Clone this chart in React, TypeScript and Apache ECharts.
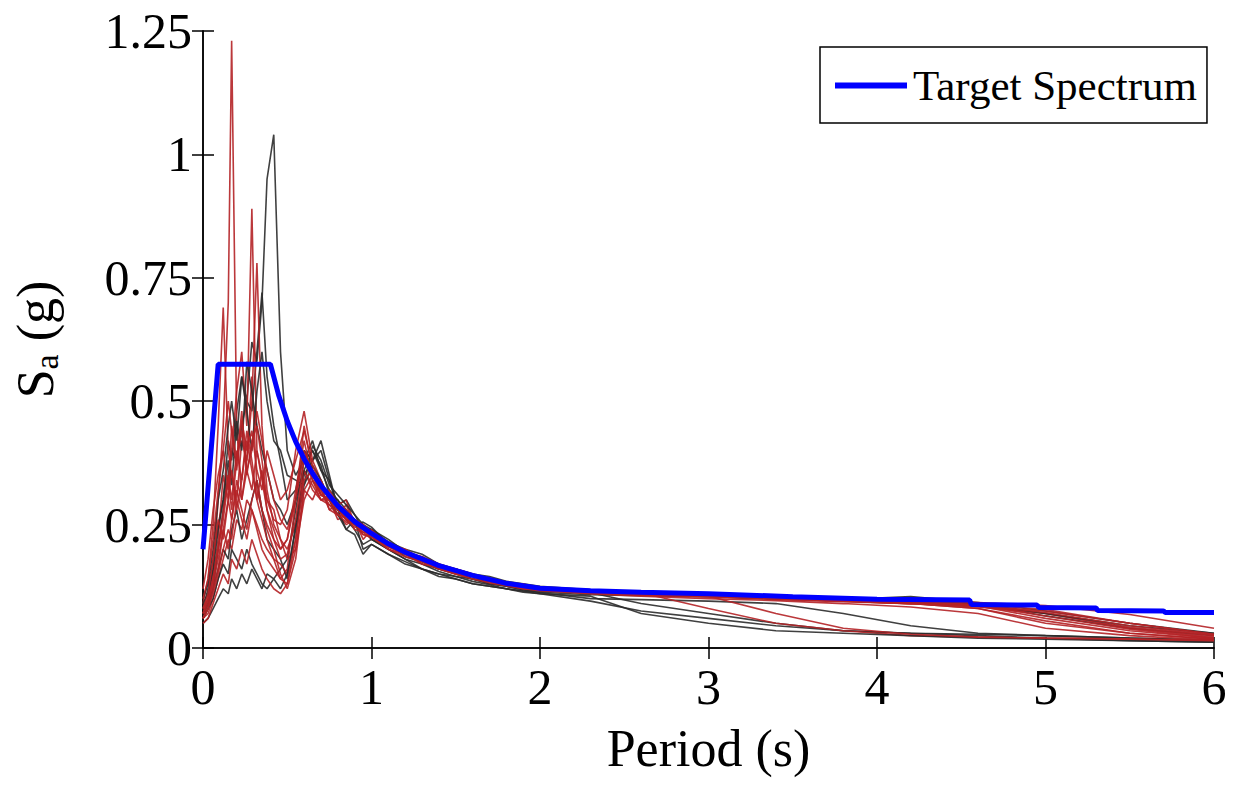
import React, { useEffect, useRef } from "react";
import * as echarts from "echarts";

// Period grid (s) shared by all ground-motion records
const PERIODS = [
  0, 0.03, 0.06, 0.09, 0.12, 0.15, 0.17, 0.2, 0.23, 0.26, 0.29, 0.32, 0.35, 0.38, 0.42, 0.46, 0.5, 0.55,
  0.6, 0.65, 0.7, 0.75, 0.8, 0.85, 0.9, 0.95, 1.0, 1.1, 1.2, 1.3, 1.4, 1.5, 1.6, 1.7, 1.8, 1.9, 2.0,
  2.3, 2.6, 3.0, 3.4, 3.8, 4.2, 4.6, 5.0, 5.5, 6.0,
];

// Red records (Sa in g at PERIODS)
const R1 = [0.07, 0.10, 0.16, 0.30, 0.45, 0.70, 1.23, 0.45, 0.30, 0.38, 0.55, 0.32, 0.28, 0.25, 0.22, 0.20, 0.22, 0.30,
  0.40, 0.36, 0.31, 0.30, 0.27, 0.29, 0.25, 0.235, 0.22, 0.21, 0.19, 0.185, 0.16, 0.16, 0.145, 0.14, 0.13, 0.125, 0.12,
  0.115, 0.11, 0.105, 0.10, 0.098, 0.092, 0.085, 0.06, 0.035, 0.02];
const R2 = [0.06, 0.09, 0.14, 0.22, 0.35, 0.30, 0.40, 0.52, 0.60, 0.45, 0.89, 0.40, 0.35, 0.30, 0.28, 0.22, 0.20, 0.25,
  0.36, 0.33, 0.30, 0.29, 0.28, 0.26, 0.26, 0.25, 0.235, 0.21, 0.19, 0.175, 0.165, 0.16, 0.15, 0.14, 0.13, 0.122, 0.12,
  0.112, 0.11, 0.107, 0.10, 0.095, 0.09, 0.08, 0.055, 0.03, 0.018];
const R3 = [0.09, 0.14, 0.25, 0.45, 0.69, 0.40, 0.35, 0.30, 0.42, 0.38, 0.50, 0.78, 0.45, 0.32, 0.25, 0.22, 0.18, 0.20,
  0.32, 0.35, 0.33, 0.28, 0.29, 0.30, 0.25, 0.23, 0.225, 0.205, 0.195, 0.17, 0.16, 0.15, 0.14, 0.135, 0.128, 0.13, 0.118,
  0.11, 0.108, 0.104, 0.098, 0.094, 0.09, 0.083, 0.07, 0.04, 0.022];
const R4 = [0.06, 0.07, 0.10, 0.14, 0.18, 0.22, 0.20, 0.26, 0.24, 0.30, 0.28, 0.25, 0.22, 0.20, 0.18, 0.14, 0.16, 0.30,
  0.45, 0.36, 0.32, 0.29, 0.27, 0.25, 0.26, 0.22, 0.24, 0.21, 0.20, 0.18, 0.165, 0.155, 0.148, 0.135, 0.13, 0.123, 0.12,
  0.113, 0.108, 0.104, 0.10, 0.097, 0.093, 0.088, 0.07, 0.042, 0.025];
const R5 = [0.08, 0.10, 0.15, 0.20, 0.28, 0.35, 0.30, 0.40, 0.34, 0.42, 0.36, 0.30, 0.26, 0.22, 0.18, 0.17, 0.15, 0.22,
  0.36, 0.32, 0.30, 0.31, 0.28, 0.26, 0.25, 0.25, 0.23, 0.215, 0.19, 0.185, 0.17, 0.16, 0.15, 0.14, 0.132, 0.126, 0.12,
  0.118, 0.112, 0.08, 0.05, 0.035, 0.025, 0.022, 0.02, 0.018, 0.015];
const R6 = [0.12, 0.18, 0.28, 0.35, 0.40, 0.32, 0.45, 0.38, 0.48, 0.35, 0.42, 0.45, 0.38, 0.30, 0.26, 0.25, 0.28, 0.40,
  0.48, 0.38, 0.34, 0.30, 0.26, 0.27, 0.24, 0.235, 0.23, 0.20, 0.19, 0.175, 0.162, 0.15, 0.145, 0.14, 0.13, 0.122, 0.118,
  0.112, 0.109, 0.105, 0.102, 0.097, 0.092, 0.086, 0.065, 0.038, 0.02];
const R7 = [0.05, 0.06, 0.09, 0.12, 0.15, 0.13, 0.18, 0.16, 0.20, 0.17, 0.22, 0.19, 0.16, 0.14, 0.12, 0.11, 0.13, 0.22,
  0.34, 0.36, 0.31, 0.32, 0.29, 0.26, 0.255, 0.24, 0.23, 0.21, 0.193, 0.18, 0.168, 0.155, 0.146, 0.138, 0.13, 0.125, 0.12,
  0.115, 0.11, 0.106, 0.10, 0.095, 0.09, 0.084, 0.075, 0.05, 0.028];
const R8 = [0.07, 0.09, 0.13, 0.18, 0.24, 0.30, 0.26, 0.34, 0.30, 0.36, 0.32, 0.40, 0.34, 0.28, 0.24, 0.20, 0.22, 0.32,
  0.42, 0.34, 0.31, 0.30, 0.285, 0.27, 0.26, 0.24, 0.225, 0.205, 0.19, 0.17, 0.165, 0.16, 0.145, 0.135, 0.128, 0.12, 0.118,
  0.113, 0.108, 0.104, 0.10, 0.096, 0.09, 0.08, 0.05, 0.03, 0.018];
const R9 = [0.10, 0.14, 0.22, 0.32, 0.40, 0.50, 0.44, 0.36, 0.46, 0.40, 0.44, 0.36, 0.32, 0.40, 0.35, 0.30, 0.32, 0.38,
  0.44, 0.37, 0.33, 0.30, 0.29, 0.28, 0.26, 0.25, 0.235, 0.21, 0.195, 0.185, 0.163, 0.155, 0.147, 0.14, 0.132, 0.126, 0.12,
  0.114, 0.11, 0.106, 0.102, 0.098, 0.093, 0.087, 0.072, 0.045, 0.026];
const R10 = [0.06, 0.08, 0.11, 0.15, 0.20, 0.24, 0.22, 0.30, 0.26, 0.22, 0.28, 0.24, 0.20, 0.18, 0.16, 0.14, 0.13, 0.20,
  0.30, 0.34, 0.32, 0.28, 0.27, 0.255, 0.255, 0.23, 0.225, 0.20, 0.185, 0.175, 0.16, 0.15, 0.14, 0.132, 0.126, 0.12, 0.116,
  0.11, 0.105, 0.10, 0.096, 0.09, 0.083, 0.07, 0.04, 0.025, 0.016];
const R11 = [0.08, 0.11, 0.18, 0.26, 0.22, 0.30, 0.36, 0.28, 0.34, 0.44, 0.38, 0.30, 0.36, 0.28, 0.22, 0.18, 0.19, 0.26,
  0.38, 0.34, 0.30, 0.30, 0.28, 0.26, 0.245, 0.24, 0.23, 0.21, 0.19, 0.178, 0.165, 0.155, 0.146, 0.138, 0.13, 0.124, 0.12,
  0.115, 0.11, 0.106, 0.101, 0.097, 0.094, 0.088, 0.078, 0.05, 0.028];
const R12 = [0.06, 0.08, 0.12, 0.16, 0.24, 0.20, 0.26, 0.32, 0.28, 0.24, 0.30, 0.34, 0.28, 0.24, 0.20, 0.15, 0.12, 0.18,
  0.32, 0.30, 0.34, 0.30, 0.29, 0.27, 0.255, 0.24, 0.232, 0.21, 0.196, 0.182, 0.165, 0.158, 0.148, 0.14, 0.132, 0.125, 0.121,
  0.118, 0.112, 0.108, 0.103, 0.10, 0.096, 0.092, 0.086, 0.068, 0.04];
const R13 = [0.07, 0.10, 0.14, 0.20, 0.26, 0.34, 0.28, 0.38, 0.44, 0.36, 0.40, 0.48, 0.42, 0.36, 0.30, 0.26, 0.24, 0.30,
  0.40, 0.35, 0.31, 0.30, 0.27, 0.265, 0.25, 0.245, 0.23, 0.205, 0.19, 0.178, 0.162, 0.152, 0.145, 0.136, 0.128, 0.122, 0.118,
  0.113, 0.108, 0.105, 0.07, 0.04, 0.028, 0.022, 0.02, 0.018, 0.015];

// Black records (Sa in g at PERIODS)
const B1 = [0.08, 0.12, 0.18, 0.25, 0.30, 0.42, 0.38, 0.48, 0.55, 0.50, 0.62, 0.58, 0.70, 0.95, 1.04, 0.60, 0.40, 0.35,
  0.38, 0.42, 0.36, 0.32, 0.30, 0.28, 0.26, 0.25, 0.24, 0.215, 0.20, 0.19, 0.17, 0.16, 0.15, 0.145, 0.135, 0.13, 0.125,
  0.118, 0.112, 0.108, 0.105, 0.10, 0.098, 0.09, 0.065, 0.04, 0.025];
const B2 = [0.06, 0.08, 0.12, 0.20, 0.28, 0.35, 0.40, 0.38, 0.45, 0.50, 0.48, 0.60, 0.72, 0.55, 0.45, 0.38, 0.30, 0.32,
  0.40, 0.38, 0.40, 0.34, 0.29, 0.30, 0.27, 0.24, 0.24, 0.22, 0.195, 0.175, 0.16, 0.15, 0.14, 0.13, 0.125, 0.118, 0.115,
  0.112, 0.09, 0.07, 0.05, 0.035, 0.03, 0.025, 0.02, 0.015, 0.012];
const B3 = [0.05, 0.06, 0.08, 0.10, 0.12, 0.11, 0.14, 0.12, 0.15, 0.13, 0.16, 0.14, 0.12, 0.15, 0.14, 0.16, 0.18, 0.28,
  0.38, 0.40, 0.37, 0.31, 0.30, 0.26, 0.24, 0.21, 0.22, 0.20, 0.18, 0.16, 0.15, 0.14, 0.13, 0.125, 0.12, 0.115, 0.11,
  0.095, 0.075, 0.06, 0.045, 0.035, 0.03, 0.028, 0.025, 0.02, 0.015];
const B4 = [0.10, 0.13, 0.20, 0.30, 0.36, 0.45, 0.50, 0.42, 0.55, 0.48, 0.40, 0.52, 0.60, 0.50, 0.42, 0.40, 0.35, 0.34,
  0.33, 0.41, 0.38, 0.33, 0.31, 0.29, 0.27, 0.25, 0.22, 0.20, 0.18, 0.17, 0.155, 0.145, 0.135, 0.128, 0.12, 0.116, 0.113,
  0.108, 0.106, 0.104, 0.10, 0.098, 0.104, 0.092, 0.075, 0.05, 0.03];
const B5 = [0.07, 0.09, 0.12, 0.16, 0.20, 0.18, 0.24, 0.28, 0.22, 0.26, 0.30, 0.34, 0.28, 0.22, 0.20, 0.18, 0.14, 0.25,
  0.35, 0.38, 0.42, 0.35, 0.28, 0.24, 0.26, 0.20, 0.21, 0.19, 0.175, 0.16, 0.15, 0.145, 0.14, 0.13, 0.125, 0.118, 0.112,
  0.10, 0.098, 0.095, 0.09, 0.07, 0.045, 0.03, 0.025, 0.02, 0.016];
const B6 = [0.09, 0.11, 0.16, 0.24, 0.30, 0.38, 0.33, 0.46, 0.40, 0.58, 0.52, 0.45, 0.40, 0.36, 0.30, 0.28, 0.25, 0.30,
  0.36, 0.40, 0.36, 0.34, 0.28, 0.27, 0.25, 0.255, 0.245, 0.21, 0.185, 0.175, 0.16, 0.155, 0.14, 0.135, 0.127, 0.12, 0.118,
  0.114, 0.11, 0.107, 0.104, 0.10, 0.095, 0.09, 0.07, 0.045, 0.03];
const B7 = [0.06, 0.08, 0.10, 0.14, 0.17, 0.15, 0.20, 0.18, 0.16, 0.20, 0.17, 0.15, 0.13, 0.12, 0.14, 0.12, 0.15, 0.24,
  0.33, 0.37, 0.34, 0.30, 0.27, 0.24, 0.23, 0.19, 0.21, 0.19, 0.17, 0.16, 0.145, 0.14, 0.13, 0.125, 0.12, 0.113, 0.11,
  0.105, 0.07, 0.05, 0.035, 0.03, 0.025, 0.02, 0.018, 0.015, 0.012];

const RED_RECORDS = [R1, R2, R3, R4, R5, R6, R7, R8, R9, R10, R11, R12, R13];
const BLACK_RECORDS = [B1, B2, B3, B4, B5, B6, B7];

// Target spectrum
const TARGET_T = [0, 0.09, 0.4, 0.45, 0.5, 0.55, 0.6, 0.65, 0.7, 0.8, 0.9, 1.0, 1.1, 1.2, 1.4, 1.6, 1.8, 2.0, 2.3, 2.6, 3.0, 3.5, 4.0, 4.55, 4.56, 4.95, 4.96, 5.3, 5.31, 5.7, 5.71, 6.0];
const TARGET_SA = [0.2, 0.575, 0.575, 0.511, 0.46, 0.418, 0.383, 0.354, 0.329, 0.288, 0.256, 0.232, 0.211, 0.194, 0.167, 0.147, 0.131, 0.121, 0.116, 0.113, 0.110, 0.104, 0.099, 0.097, 0.088, 0.087, 0.082, 0.081, 0.076, 0.075, 0.072, 0.072];

const X_TICKS = [0, 1, 2, 3, 4, 5, 6];
const Y_TICKS = [0, 0.25, 0.5, 0.75, 1, 1.25];

const FONT = "'Liberation Serif', 'Times New Roman', serif";

export default function App() {
  const ref = useRef<HTMLDivElement>(null);

  useEffect(() => {
    if (!ref.current) return;
    const chart = echarts.init(ref.current, undefined, { renderer: "svg" });

    const recordSeries: any[] = [];
    const n = Math.max(RED_RECORDS.length, BLACK_RECORDS.length);
    for (let i = 0; i < n; i++) {
      if (i < BLACK_RECORDS.length) {
        recordSeries.push({
          type: "line",
          name: "Black record " + (i + 1),
          data: PERIODS.map((t, j) => [t, BLACK_RECORDS[i][j]]),
          showSymbol: false,
          silent: true,
          lineStyle: { color: "#2b2b2b", width: 1.6, opacity: 0.9 },
          z: 2,
        });
      }
      if (i < RED_RECORDS.length) {
        recordSeries.push({
          type: "line",
          name: "Red record " + (i + 1),
          data: PERIODS.map((t, j) => [t, RED_RECORDS[i][j]]),
          showSymbol: false,
          silent: true,
          lineStyle: { color: "#b42226", width: 1.6, opacity: 0.9 },
          z: 2,
        });
      }
    }

    const axisLabel = { color: "#000", fontFamily: FONT, fontSize: 50 };
    const xMin = X_TICKS[0];
    const xMax = X_TICKS[X_TICKS.length - 1];
    const yMin = Y_TICKS[0];
    const yMax = Y_TICKS[Y_TICKS.length - 1];
    const tick = { show: true, inside: true, length: 11, lineStyle: { color: "#000", width: 1.5 } };
    const line = { show: true, lineStyle: { color: "#000", width: 1.5 } };

    chart.setOption({
      animation: false,
      backgroundColor: "#fff",
      grid: { left: 203, top: 31, right: 29, bottom: 145, containLabel: false },
      legend: {
        data: ["Target Spectrum"],
        left: 820,
        top: 47,
        orient: "horizontal",
        selectedMode: false,
        backgroundColor: "#fff",
        borderColor: "#000",
        borderWidth: 1.5,
        borderRadius: 0,
        padding: [17, 10, 16, 15],
        icon: "rect",
        itemWidth: 72,
        itemHeight: 6,
        textStyle: { color: "#000", fontFamily: FONT, fontSize: 43, padding: [0, 0, 0, 1] },
      },
      xAxis: [
        {
          type: "value",
          position: "bottom",
          min: xMin,
          max: xMax,
          interval: 1,
          name: "Period (s)",
          nameLocation: "middle",
          nameGap: 74,
          nameTextStyle: { color: "#000", fontFamily: FONT, fontSize: 52 },
          axisLine: line,
          axisTick: tick,
          axisLabel: { ...axisLabel, margin: 14 },
          splitLine: { show: false },
        },
        {
          type: "value",
          position: "top",
          min: xMin,
          max: xMax,
          interval: 1,
          axisLine: line,
          axisTick: tick,
          axisLabel: { show: false },
          splitLine: { show: false },
        },
      ],
      yAxis: [
        {
          type: "value",
          position: "left",
          min: yMin,
          max: yMax,
          interval: 0.25,
          name: "S{sub|a} (g)",
          nameLocation: "middle",
          nameGap: 140,
          nameRotate: 90,
          nameTextStyle: {
            color: "#000",
            fontFamily: FONT,
            fontSize: 52,
            rich: {
              sub: { fontFamily: FONT, fontSize: 34, color: "#000", verticalAlign: "bottom", padding: [22, 0, 0, 0] },
            },
          },
          axisLine: line,
          axisTick: tick,
          axisLabel: { ...axisLabel, margin: 11 },
          splitLine: { show: false },
        },
        {
          type: "value",
          position: "right",
          min: yMin,
          max: yMax,
          interval: 0.25,
          axisLine: line,
          axisTick: tick,
          axisLabel: { show: false },
          splitLine: { show: false },
        },
      ],
      series: [
        ...recordSeries,
        {
          type: "line",
          name: "Target Spectrum",
          data: TARGET_T.map((t, j) => [t, TARGET_SA[j]]),
          showSymbol: false,
          silent: true,
          itemStyle: { color: "#0000ff" },
          lineStyle: { color: "#0000ff", width: 5 },
          z: 5,
        },
      ],
    });

    return () => chart.dispose();
  }, []);

  return (
    <div
      ref={ref}
      style={{ position: "fixed", left: 0, top: 0, width: 1243, height: 793, background: "#fff" }}
    />
  );
}
